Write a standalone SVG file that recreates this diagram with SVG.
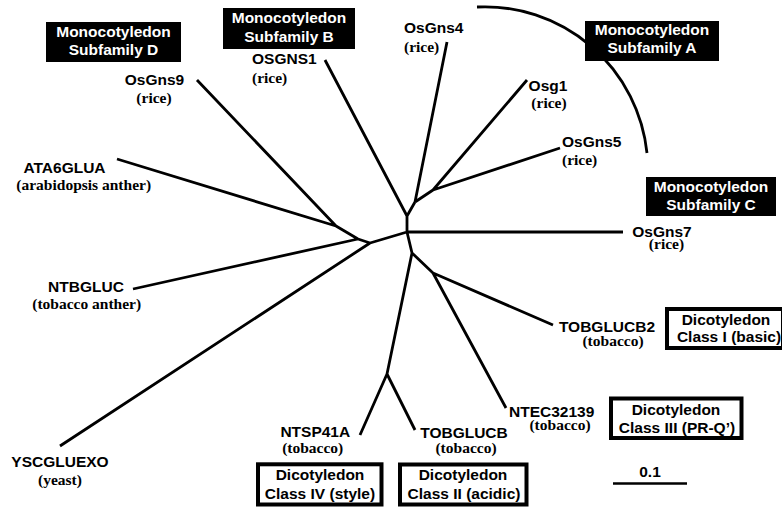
<svg xmlns="http://www.w3.org/2000/svg" width="782" height="509" viewBox="0 0 782 509">
<style>
.e{stroke:#000;stroke-width:2.8;fill:none;stroke-linecap:butt;stroke-linejoin:round}
.n{font-family:"Liberation Sans",Arial,sans-serif;font-weight:bold;font-size:15.5px;fill:#000}
.s{font-family:"Liberation Serif","Times New Roman",serif;font-weight:bold;font-size:15.5px;fill:#000}
.m{text-anchor:middle}
.bb{fill:#000}
.bt{font-family:"Liberation Sans",Arial,sans-serif;font-weight:bold;font-size:15.5px;fill:#fff;text-anchor:middle}
.wb{fill:#fff;stroke:#000;stroke-width:4}
</style>
<rect width="782" height="509" fill="#fff"/>
<g id="connectors">
<path class="e" d="M407,232 L407,216 M407,216 L325,60 M407,216 L415,202 M415,202 L447,42 M415,202 L433,190 M433,190 L527,80 M433,190 L560,148 M407,232 L623,232 M407,232 L370,243 M370,243 L60,446 M370,243 L358,239 M358,239 L133,289 M358,239 L336,226 M336,226 L197,80 M336,226 L117,159 M407,232 L412,253 M412,253 L387,374 M387,374 L360,435 M387,374 L415,430 M412,253 L433,273 M433,273 L553,325 M433,273 L506,408"/>
<path id="subfamilyA-arc" class="e" d="M477,7 A163,163 0 0 1 647,153"/>
</g>
<g id="subfamily-D"><rect class="bb" x="46" y="22" width="135" height="40"/><text class="bt" x="113.5" y="36.7">Monocotyledon</text><text class="bt" x="113.5" y="54.5">Subfamily D</text></g>
<g id="subfamily-B"><rect class="bb" x="223" y="8" width="132" height="41"/><text class="bt" x="289" y="22.7">Monocotyledon</text><text class="bt" x="289" y="41.5">Subfamily B</text></g>
<g id="subfamily-A"><rect class="bb" x="585" y="21" width="134" height="40"/><text class="bt" x="652" y="35.2">Monocotyledon</text><text class="bt" x="652" y="53.3">Subfamily A</text></g>
<g id="subfamily-C"><rect class="bb" x="646" y="177" width="130" height="39"/><text class="bt" x="711" y="191.7">Monocotyledon</text><text class="bt" x="711" y="210">Subfamily C</text></g>
<g id="class-I"><rect class="wb" x="667" y="309" width="116" height="39"/><text class="n m" x="726" y="324.5">Dicotyledon</text><text class="n m" x="729" y="342">Class I (basic)</text></g>
<g id="class-III"><rect class="wb" x="611" y="398.5" width="130.5" height="39.5"/><text class="n m" x="676" y="415">Dicotyledon</text><text class="n m" x="677" y="433">Class III (PR-Q’)</text></g>
<g id="class-II"><rect class="wb" x="400" y="464.5" width="126.5" height="40"/><text class="n m" x="463" y="480">Dicotyledon</text><text class="n m" x="464" y="499.3">Class II (acidic)</text></g>
<g id="class-IV"><rect class="wb" x="258" y="464.3" width="123.5" height="40.2"/><text class="n m" x="320" y="480">Dicotyledon</text><text class="n m" x="320" y="499.3">Class IV (style)</text></g>
<g id="OsGns9"><text class="n m" x="154.5" y="85">OsGns9</text><text class="s m" x="154" y="103">(rice)</text></g>
<g id="OSGNS1"><text class="n" x="252" y="64">OSGNS1</text><text class="s" x="252" y="83">(rice)</text></g>
<g id="OsGns4"><text class="n" x="404" y="33">OsGns4</text><text class="s" x="404" y="52">(rice)</text></g>
<g id="Osg1"><text class="n m" x="548" y="91">Osg1</text><text class="s m" x="549" y="108">(rice)</text></g>
<g id="OsGns5"><text class="n" x="562" y="147">OsGns5</text><text class="s" x="562" y="165">(rice)</text></g>
<g id="OsGns7"><text class="n m" x="662" y="236.5">OsGns7</text><text class="s m" x="666.5" y="249">(rice)</text></g>
<g id="ATA6GLUA"><text class="n m" x="64.5" y="173">ATA6GLUA</text><text class="s m" x="83.7" y="190">(arabidopsis anther)</text></g>
<g id="NTBGLUC"><text class="n m" x="86" y="292">NTBGLUC</text><text class="s m" x="86.7" y="309">(tobacco anther)</text></g>
<g id="YSCGLUEXO"><text class="n m" x="60" y="467">YSCGLUEXO</text><text class="s m" x="60" y="485">(yeast)</text></g>
<g id="NTSP41A"><text class="n m" x="315.3" y="436.5">NTSP41A</text><text class="s m" x="312.7" y="452.5">(tobacco)</text></g>
<g id="TOBGLUCB"><text class="n m" x="464" y="437.5">TOBGLUCB</text><text class="s m" x="466" y="453">(tobacco)</text></g>
<g id="NTEC32139"><text class="n m" x="551.7" y="416.5">NTEC32139</text><text class="s m" x="560" y="429.5">(tobacco)</text></g>
<g id="TOBGLUCB2"><text class="n m" x="607" y="331.5">TOBGLUCB2</text><text class="s m" x="613" y="346">(tobacco)</text></g>
<g id="scale-bar"><text class="n m" x="650" y="477">0.1</text><line x1="613" y1="483.5" x2="687" y2="483.5" stroke="#000" stroke-width="2.5"/></g>
</svg>
